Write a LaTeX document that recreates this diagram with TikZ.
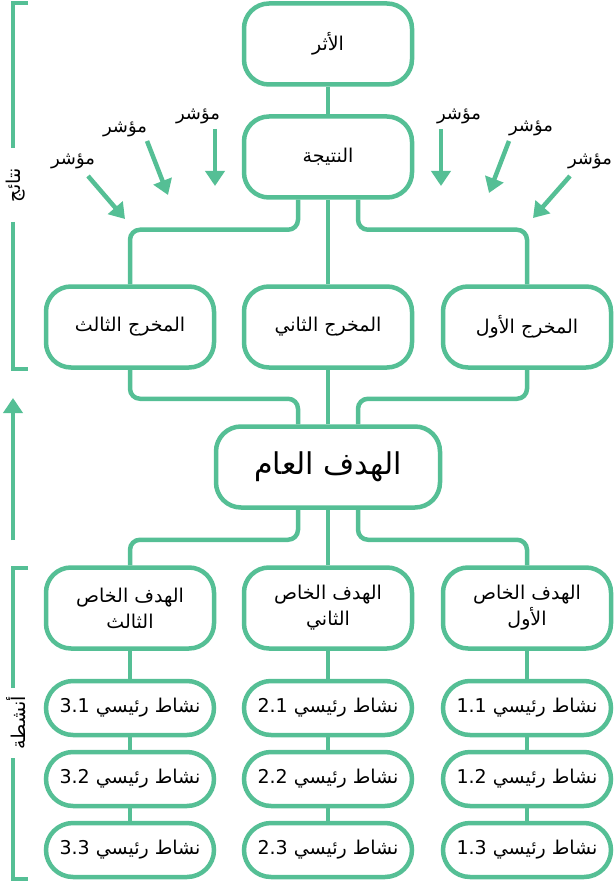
\documentclass[tikz,border=0pt]{standalone}
\usepackage{fontspec}
\setmainfont{DejaVu Sans}
\newfontfamily\arabicfont[Script=Arabic]{DejaVu Sans}
\TeXXeTstate=1
\usetikzlibrary{arrows.meta}
\definecolor{gr}{HTML}{55BF95}
\tikzset{
  box/.style={draw=gr,line width=4.5pt,rounded corners=25pt,minimum width=168pt,minimum height=81pt,inner sep=0pt,align=center,font=\arabicfont\fontsize{19}{26}\selectfont},
  pill/.style={draw=gr,line width=4.5pt,rounded corners=27pt,minimum width=168pt,minimum height=54pt,inner sep=0pt,font=\arabicfont\fontsize{19}{24}\selectfont},
  conn/.style={draw=gr,line width=4.5pt,rounded corners=10pt},
  ind/.style={draw=gr,line width=4.5pt,-{Triangle[length=15pt,width=19pt]}},
  lbl/.style={font=\arabicfont\fontsize{18}{22}\selectfont,inner sep=1pt},
  brk/.style={draw=gr,line width=4.5pt}
}
\begin{document}
\begin{tikzpicture}[x=1pt,y=-1pt]
\useasboundingbox (0,0) rectangle (615,882);
\node[box] (imp) at (328,44) {\beginR الأثر\endR};
\node[box] (res) at (328,157) {\beginR النتيجة\endR};
\node[box] (o3) at (130,327) {\beginR المخرج الثالث\endR};
\node[box] (o2) at (328,327) {\beginR المخرج الثاني\endR};
\node[box] (o1) at (527,327) {\beginR المخرج الأول\endR};
\node[box,minimum width=224pt,font=\arabicfont\fontsize{30}{34}\selectfont] (gen) at (328,467) {\beginR الهدف العام\endR};
\node[box] (s3) at (130,608) {\beginR الهدف الخاص\endR\\\beginR الثالث\endR};
\node[box] (s2) at (328,608) {\beginR الهدف الخاص\endR\\\beginR الثاني\endR};
\node[box] (s1) at (527,608) {\beginR الهدف الخاص\endR\\\beginR الأول\endR};
\foreach \c/\x in {3/130,2/328,1/527}{
  \node[pill] (a\c1) at (\x,708) {\beginR نشاط رئيسي \beginL\c.1\endL\endR};
  \node[pill] (a\c2) at (\x,779) {\beginR نشاط رئيسي \beginL\c.2\endL\endR};
  \node[pill] (a\c3) at (\x,850) {\beginR نشاط رئيسي \beginL\c.3\endL\endR};
  \draw[conn] (s\c) -- (a\c1);
  \draw[conn] (a\c1) -- (a\c2);
  \draw[conn] (a\c2) -- (a\c3);
}
\draw[conn] (imp) -- (res);
\draw[conn] (res) -- (o2);
\draw[conn] ([xshift=-30pt]res.south) -- ++(0,30) -| (o3.north);
\draw[conn] ([xshift=30pt]res.south) -- ++(0,30) -| (o1.north);
\draw[conn] (o2) -- (gen);
\draw[conn] (o3.south) -- ++(0,29) -| ([xshift=-30pt]gen.north);
\draw[conn] (o1.south) -- ++(0,29) -| ([xshift=30pt]gen.north);
\draw[conn] (gen) -- (s2);
\draw[conn] ([xshift=-30pt]gen.south) -- ++(0,30) -| (s3.north);
\draw[conn] ([xshift=30pt]gen.south) -- ++(0,30) -| (s1.north);
% indicators
\node[lbl] (i1) at (73,161) {\beginR مؤشر\endR};
\node[lbl] (i2) at (125,129) {\beginR مؤشر\endR};
\node[lbl] (i3) at (198,116) {\beginR مؤشر\endR};
\node[lbl] (i4) at (459,116) {\beginR مؤشر\endR};
\node[lbl] (i5) at (531,128) {\beginR مؤشر\endR};
\node[lbl] (i6) at (590,161) {\beginR مؤشر\endR};
\coordinate (e1) at (125,219); \coordinate (e2) at (168,195);
\coordinate (e3) at (215,186); \coordinate (e4) at (441,186);
\coordinate (e5) at (489,193); \coordinate (e6) at (533,218);
\coordinate (b1) at (88,176); \coordinate (b2) at (147,141);
\coordinate (b3) at (215,129); \coordinate (b4) at (441,129);
\coordinate (b5) at (509,141); \coordinate (b6) at (570,176);
\foreach \k in {1,...,6}{\draw[ind] (b\k) -- (e\k);}
% brackets
\coordinate (t1) at (28,3); \coordinate (t2) at (28,369);
\draw[brk] (t1) -| (13,148);
\draw[brk] (13,222) |- (t2);
\node[lbl,rotate=90,font=\arabicfont\fontsize{19}{22}\selectfont] (nt) at (16,185) {\beginR نتائج\endR};
\coordinate (ua) at (13,540); \coordinate (ub) at (13,398);
\draw[ind] (ua) -- (ub);
\coordinate (t3) at (28,568); \coordinate (t4) at (28,879);
\draw[brk] (t3) -| (13,688);
\draw[brk] (13,758) |- (t4);
\node[lbl,rotate=90,font=\arabicfont\fontsize{19}{22}\selectfont] (an) at (16,723) {\beginR أنشطة\endR};
\end{tikzpicture}
\end{document}
